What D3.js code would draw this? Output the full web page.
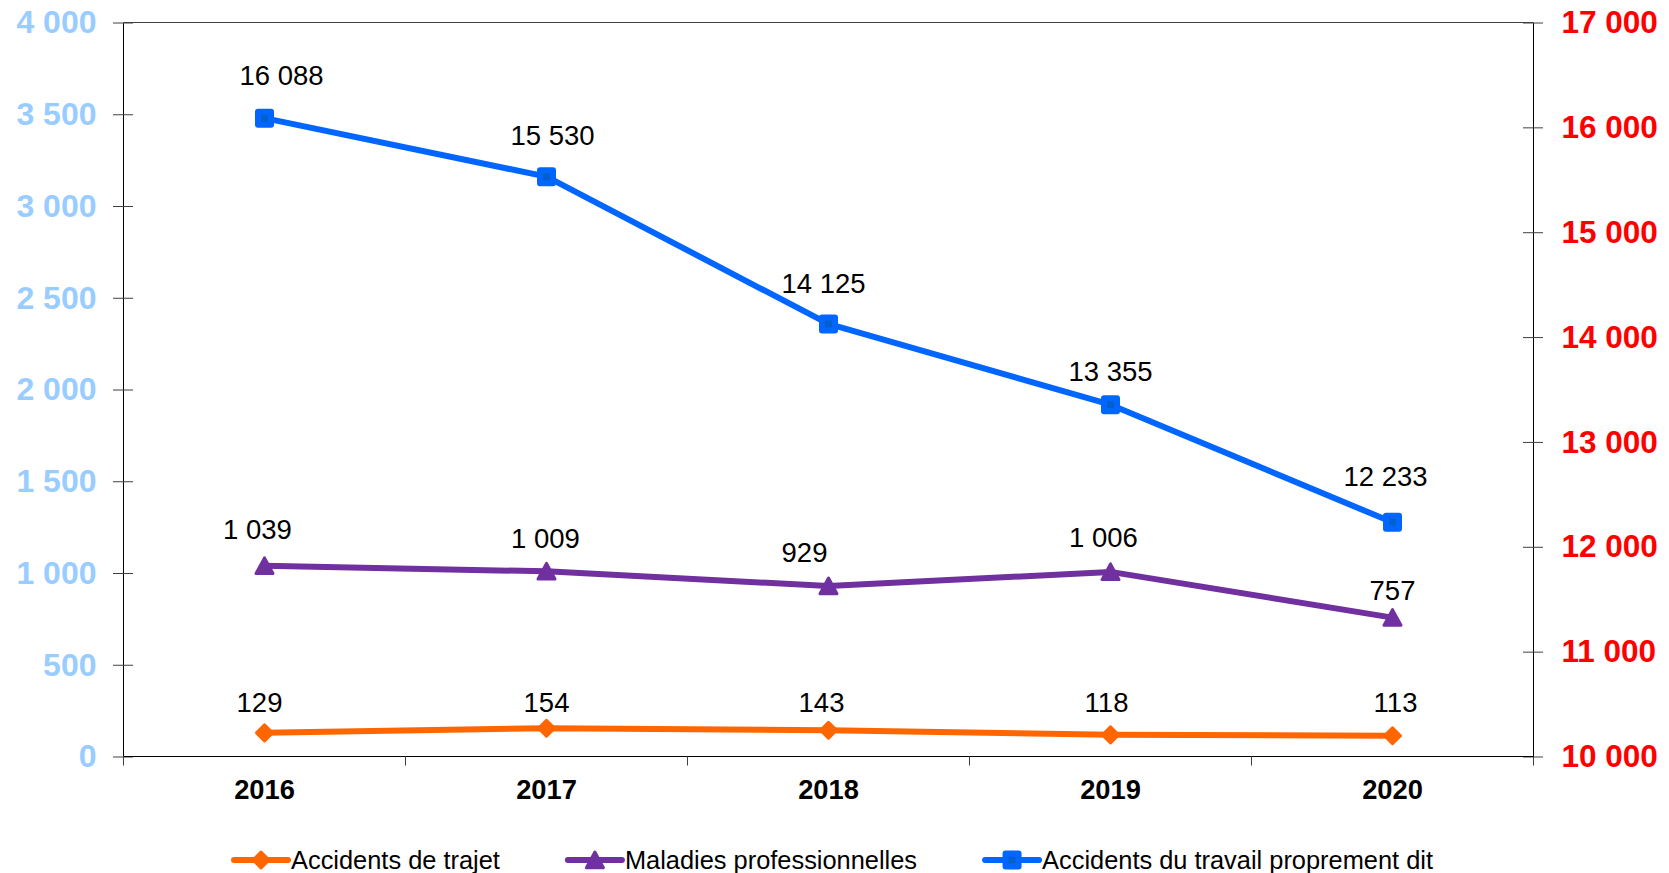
<!DOCTYPE html>
<html lang="fr">
<head>
<meta charset="utf-8">
<title>Accidents du travail, de trajet et maladies professionnelles 2016–2020</title>
<script src="https://cdn.jsdelivr.net/npm/d3@7"></script>
<style>
  html, body { margin: 0; padding: 0; background: #fff; }
  svg { display: block; font-family: "Liberation Sans", Arial, Helvetica, sans-serif; }
</style>
</head>
<body>
<svg id="chart" width="1669" height="873"></svg>
<script>
// ---- Data ----
const categories = ["2016", "2017", "2018", "2019", "2020"];
const accidentsTrajet = [129, 154, 143, 118, 113];
const maladiesPro = [1039, 1009, 929, 1006, 757];
const accidentsTravail = [16088, 15530, 14125, 13355, 12233];
const leftTicks = [0, 500, 1000, 1500, 2000, 2500, 3000, 3500, 4000];
const rightTicks = [10000, 11000, 12000, 13000, 14000, 15000, 16000, 17000];
const seriesNames = ["Accidents de trajet", "Maladies professionnelles", "Accidents du travail proprement dit"];

// Per-label nudges (px) for the value labels, [dx, dy] relative to the point
const trajetNudge = [[-5, -21], [0, -16], [-7, -18], [-4, -23], [3, -24]];
const maladiesNudge = [[-7, -27], [-1, -23], [-24, -24], [-7, -25], [0, -18]];
const travailNudge = [[17, -33], [6, -32], [-5, -31], [0, -24], [-7, -36]];

// ---- Layout ----
const plot = { left: 123.5, right: 1533.5, top: 22.5, bottom: 756.5 };

const svg = d3.select("#chart");

const x = d3.scaleBand().domain(categories).range([plot.left, plot.right]).padding(0);
const yL = d3.scaleLinear().domain([0, 4000]).range([plot.bottom, plot.top]);
const yR = d3.scaleLinear().domain([10000, 17000]).range([plot.bottom, plot.top]);
const cx = d => x(d) + x.bandwidth() / 2;

const fr = d3.formatLocale({ decimal: ",", thousands: "\u00a0", grouping: [3], currency: ["", " €"] });
const fmt = fr.format(",d");

const COL = {
  trajet: "#ff6600",
  maladies: "#7030a0",
  travail: "#0066ff",
  travailFill: "#0060cc",
  leftLabel: "#99ccff",
  rightLabel: "#ff0000",
  tick: "#404040"
};

// ---- Plot frame (top border) ----
svg.append("line")
  .attr("x1", plot.left).attr("x2", plot.right)
  .attr("y1", plot.top).attr("y2", plot.top)
  .attr("stroke", COL.tick).attr("stroke-width", 1);

// ---- Left axis ----
const gL = svg.append("g")
  .attr("transform", `translate(${plot.left - 0.5},0)`)
  .call(d3.axisLeft(yL).tickValues(leftTicks).tickFormat(fmt).tickSizeInner(10).tickSizeOuter(0).tickPadding(16.5));
gL.select(".domain").attr("stroke", "#000");
gL.selectAll(".tick line").attr("x1", 10).attr("x2", -10).attr("stroke", COL.tick);
gL.selectAll(".tick text")
  .attr("fill", COL.leftLabel).attr("font-size", 32).attr("font-weight", "bold")
  .attr("font-family", "'Liberation Sans', Arial, sans-serif");

// ---- Right axis ----
const gR = svg.append("g")
  .attr("transform", `translate(${plot.right - 0.5},0)`)
  .call(d3.axisRight(yR).tickValues(rightTicks).tickFormat(fmt).tickSizeInner(10).tickSizeOuter(0).tickPadding(18.5));
gR.select(".domain").attr("stroke", "#000");
gR.selectAll(".tick line").attr("x1", -10).attr("x2", 10).attr("stroke", COL.tick);
gR.selectAll(".tick text")
  .attr("fill", COL.rightLabel).attr("font-size", 31.5).attr("font-weight", "bold")
  .attr("font-family", "'Liberation Sans', Arial, sans-serif");

// ---- Bottom axis (category labels) ----
const gB = svg.append("g")
  .attr("transform", `translate(0,${plot.bottom - 0.5})`)
  .call(d3.axisBottom(x).tickSize(0).tickPadding(23.8));
gB.select(".domain").attr("stroke", "#000");
gB.selectAll(".tick text")
  .attr("fill", "#000").attr("font-size", 27.3).attr("font-weight", "bold")
  .attr("font-family", "'Liberation Sans', Arial, sans-serif");

// Tick marks at category boundaries
const bounds = categories.map(d => x(d)).concat([x.range()[1]]);
svg.append("g").selectAll("line").data(bounds).join("line")
  .attr("x1", d => Math.round(d - 0.5) + 0.5).attr("x2", d => Math.round(d - 0.5) + 0.5)
  .attr("y1", plot.bottom).attr("y2", plot.bottom + 9)
  .attr("stroke", COL.tick).attr("stroke-width", 1);

// ---- Marker shapes ----
function drawMarker(g, shape, color, fill) {
  if (shape === "square") {
    g.append("rect").attr("x", -6.5).attr("y", -6.5).attr("width", 13).attr("height", 13)
      .attr("fill", fill).attr("stroke", color).attr("stroke-width", 6)
      .attr("stroke-linejoin", "round");
  } else if (shape === "triangle") {
    g.append("path").attr("d", "M0,-8L8.5,7.7L-8.5,7.7Z")
      .attr("fill", color).attr("stroke", color).attr("stroke-width", 3)
      .attr("stroke-linejoin", "round");
  } else {
    g.append("path").attr("d", "M0,-8L8,0L0,8L-8,0Z")
      .attr("fill", color).attr("stroke", color).attr("stroke-width", 3)
      .attr("stroke-linejoin", "round");
  }
}

const series = [
  { name: seriesNames[0], values: accidentsTrajet, scale: yL, color: COL.trajet, fill: COL.trajet, shape: "diamond", nudge: trajetNudge },
  { name: seriesNames[1], values: maladiesPro, scale: yL, color: COL.maladies, fill: COL.maladies, shape: "triangle", nudge: maladiesNudge },
  { name: seriesNames[2], values: accidentsTravail, scale: yR, color: COL.travail, fill: COL.travailFill, shape: "square", nudge: travailNudge }
];

// ---- Lines, markers, value labels ----
series.forEach(s => {
  const pts = categories.map((c, i) => ({ c, v: s.values[i], i }));
  const line = d3.line().x(d => cx(d.c)).y(d => s.scale(d.v));
  svg.append("path").datum(pts)
    .attr("d", line).attr("fill", "none")
    .attr("stroke", s.color).attr("stroke-width", 6)
    .attr("stroke-linejoin", "round").attr("stroke-linecap", "round");

  const m = svg.append("g").selectAll("g").data(pts).join("g")
    .attr("transform", d => `translate(${cx(d.c)},${s.scale(d.v)})`);
  m.each(function () { drawMarker(d3.select(this), s.shape, s.color, s.fill); });

  svg.append("g").selectAll("text").data(pts).join("text")
    .attr("x", d => cx(d.c) + s.nudge[d.i][0])
    .attr("y", d => s.scale(d.v) + s.nudge[d.i][1])
    .attr("text-anchor", "middle")
    .attr("font-size", 27.5).attr("fill", "#000")
    .text(d => fmt(d.v));
});

// ---- Legend ----
const legend = svg.append("g");
const lineLen = 54, textGap = 3, itemGap = 68, legendY = 860;
const items = legend.selectAll("g").data(series).join("g");
items.each(function (s) {
  const g = d3.select(this);
  g.append("line").attr("x1", 0).attr("x2", lineLen).attr("y1", 0).attr("y2", 0)
    .attr("stroke", s.color).attr("stroke-width", 6).attr("stroke-linecap", "round");
  const mk = g.append("g").attr("transform", `translate(${lineLen / 2},0)`);
  drawMarker(mk, s.shape, s.color, s.fill);
  g.append("text").attr("x", lineLen + textGap).attr("y", 9)
    .attr("font-size", 25.4).attr("fill", "#000").text(s.name);
});
// Lay out the items horizontally, centred under the plot
let offs = [], acc = 0;
items.each(function () {
  const w = lineLen + textGap + d3.select(this).select("text").node().getComputedTextLength();
  offs.push(acc);
  acc += w + itemGap;
});
const totalW = acc - itemGap;
const startX = (plot.left + plot.right) / 2 - totalW / 2 + 5;
items.attr("transform", (d, i) => `translate(${startX + offs[i]},${legendY})`);
</script>
</body>
</html>
